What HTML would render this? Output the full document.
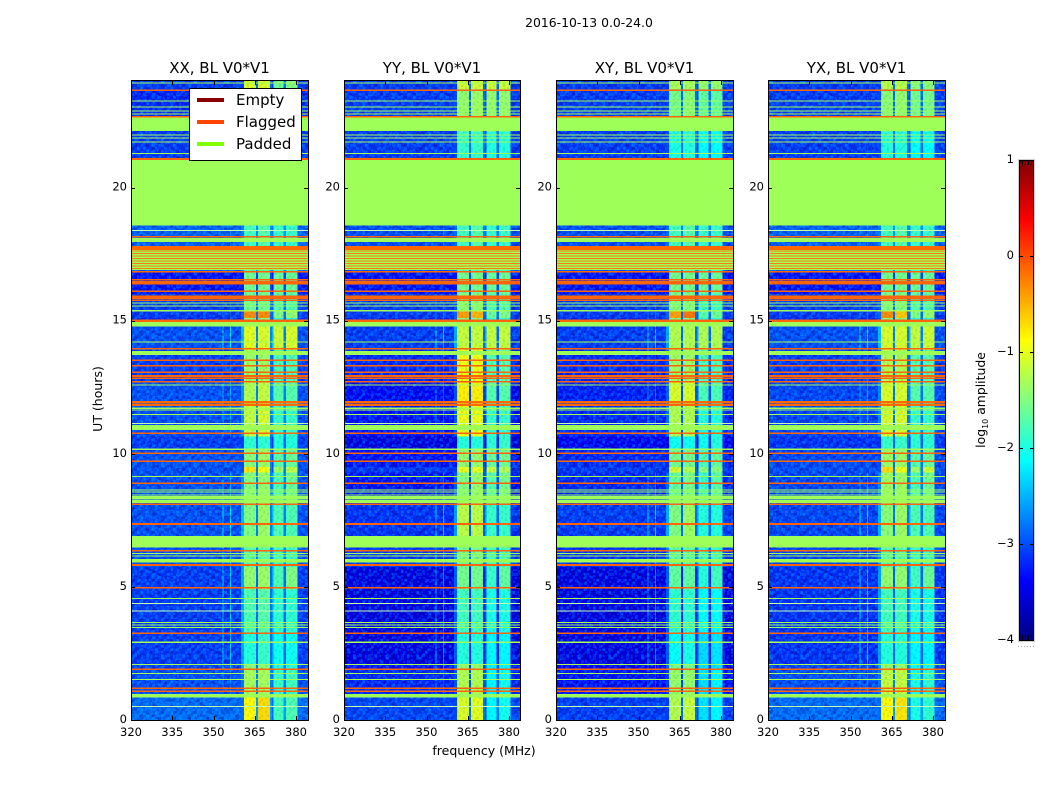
<!DOCTYPE html>
<html lang="en">
<head>
<meta charset="utf-8">
<title>2016-10-13 0.0-24.0</title>
<style>
html,body{margin:0;padding:0;background:#fff;}
svg{display:block;font-family:"DejaVu Sans","Liberation Sans",sans-serif;}
</style>
</head>
<body>
<svg id="chart" xmlns="http://www.w3.org/2000/svg" width="1050" height="800" viewBox="0 0 1050 800"></svg>
<script>
// ---- chart data (hours, MHz, log10 amplitude) ----
const panelTitles = ['XX, BL V0*V1', 'YY, BL V0*V1', 'XY, BL V0*V1', 'YX, BL V0*V1'];
const freqTicks = [320, 335, 350, 365, 380];
const hourTicks = [0, 5, 10, 15, 20];
const colorbarTicks = [1, 0, -1, -2, -3, -4];
const freqEdges = [320, 353.2, 353.6, 356, 356.4, 360, 361, 365.4, 366.1, 370.6, 371.3, 371.9, 375.4, 376.4, 380.5, 384.4];
// which row level each frequency column uses: 0 background, 1-4 bright bands, 5 RFI line, 6 band edge, 7 gap between bands
const columnRoles = [0, 5, 0, 5, 0, 6, 1, 7, 2, 7, 6, 3, 7, 4, 0];
const segmentEdges = [0, 0.85, 1.9, 2.1, 3.3, 4.9, 5.75, 6.47, 8.1, 9.3, 9.5, 10.17, 10.65, 11.9, 12.7, 13.9, 14.8, 15.1, 15.35, 16, 16.85, 18.6, 21.05, 22.1, 23.7, 24];
// RFI strength per time segment
const rfiBoost = [0, 0.3, 0.7, 0.8, 0.8, 0.8, 0.6, 0.8, 0.5, 0, 0, 0, 0.5, 0.5, 0.3, 0.8, 0.3, 0.3, 0.2, 0, 0.2, 0, 0.1, 0.1, 0];
const levelsXX = [
[-2.85,-0.85,-0.7,-1.8,-1.75],[-3.0,-1.3,-1.3,-1.85,-1.8],[-3.05,-1.45,-1.45,-1.95,-1.95],[-3.1,-1.95,-1.85,-2.05,-2.05],
[-3.1,-1.75,-1.7,-1.9,-1.9],[-3.1,-1.4,-1.35,-1.75,-1.5],[-3.0,-1.7,-1.7,-1.85,-1.85],[-3.0,-1.5,-1.35,-1.75,-1.75],
[-3.0,-1.5,-1.4,-1.75,-1.6],[-3.0,-0.75,-0.9,-1.35,-1.2],[-3.0,-1.45,-1.35,-1.7,-1.6],[-3.1,-1.9,-1.9,-1.95,-1.95],
[-3.0,-1.15,-1.05,-1.85,-1.85],[-3.0,-1.25,-1.15,-1.7,-1.7],[-3.1,-1.35,-1.35,-1.75,-1.75],[-3.0,-1.0,-1.05,-1.1,-1.05],
[-3.2,-1.5,-1.5,-1.95,-1.95],[-3.1,-0.3,-0.3,-1.5,-1.4],[-3.1,-1.6,-1.6,-1.75,-1.75],[-3.3,-1.55,-1.55,-1.6,-1.6],
[-2.9,-1.8,-1.7,-1.85,-1.85],[-1.2,-1.2,-1.2,-1.2,-1.2],[-3.1,-2.7,-2.6,-2.7,-2.7],[-3.2,-1.8,-1.7,-1.95,-1.95],[-3.1,-1.05,-1.05,-1.6,-1.5]];
const levelsYY = [
[-3.05,-1.05,-1.0,-2.15,-2.05],[-3.2,-1.25,-1.25,-2.15,-2.05],[-3.3,-1.4,-1.4,-2.15,-2.15],[-3.5,-1.95,-1.95,-2.15,-2.15],
[-3.5,-1.8,-1.8,-2.0,-2.0],[-3.5,-1.55,-1.55,-1.85,-1.65],[-3.1,-1.55,-1.55,-1.8,-1.8],[-3.15,-1.2,-1.2,-1.85,-1.85],
[-3.3,-1.5,-1.4,-1.7,-1.55],[-3.1,-1.0,-1.0,-1.15,-1.25],[-3.3,-1.4,-1.4,-1.6,-1.55],[-3.5,-1.95,-1.95,-1.9,-1.85],
[-3.3,-0.95,-0.95,-1.85,-1.85],[-3.35,-0.8,-0.8,-1.7,-1.7],[-3.2,-0.95,-0.95,-1.7,-1.7],[-3.1,-1.15,-1.15,-1.15,-1.15],
[-3.2,-1.5,-1.5,-1.95,-1.95],[-3.1,-0.4,-0.5,-1.6,-1.5],[-3.1,-1.45,-1.45,-1.75,-1.75],[-3.3,-1.55,-1.55,-1.6,-1.6],
[-3.0,-1.8,-1.7,-1.85,-1.85],[-1.2,-1.2,-1.2,-1.2,-1.2],[-3.1,-1.85,-1.85,-1.95,-1.95],[-3.1,-1.4,-1.35,-1.4,-1.4],[-3.1,-1.1,-1.1,-1.1,-1.1]];
const levelsXY = [
[-3.1,-1.25,-1.15,-2.25,-2.15],[-3.3,-1.4,-1.4,-2.25,-2.15],[-3.4,-1.55,-1.55,-2.25,-2.25],[-3.5,-2.1,-2.0,-2.3,-2.25],
[-3.5,-1.9,-1.9,-2.1,-2.1],[-3.5,-1.65,-1.65,-1.95,-1.8],[-3.15,-1.7,-1.7,-1.85,-1.85],[-3.1,-1.5,-1.35,-1.95,-1.95],
[-3.2,-1.65,-1.55,-1.85,-1.7],[-3.1,-1.1,-1.25,-1.45,-1.45],[-3.2,-1.55,-1.55,-1.75,-1.65],[-3.4,-2.05,-2.05,-2.05,-1.95],
[-3.2,-1.25,-1.25,-1.95,-1.95],[-3.25,-1.05,-1.05,-1.75,-1.75],[-3.2,-1.35,-1.35,-1.75,-1.75],[-3.1,-1.25,-1.25,-1.25,-1.25],
[-3.2,-1.5,-1.5,-1.95,-1.95],[-3.1,-0.4,-0.2,-1.7,-1.6],[-3.1,-1.5,-1.5,-1.85,-1.85],[-3.3,-1.55,-1.55,-1.6,-1.6],
[-3.0,-1.8,-1.7,-1.85,-1.85],[-1.2,-1.2,-1.2,-1.2,-1.2],[-3.1,-2.0,-1.95,-2.1,-2.1],[-3.1,-1.55,-1.45,-1.65,-1.65],[-3.1,-1.3,-1.3,-1.4,-1.4]];
const levelsYX = [
[-2.85,-0.85,-0.75,-2.0,-1.9],[-3.0,-1.15,-1.15,-2.0,-1.9],[-3.05,-1.4,-1.4,-2.05,-2.05],[-3.15,-1.95,-1.95,-2.15,-2.15],
[-3.15,-1.8,-1.8,-2.0,-2.0],[-3.15,-1.4,-1.4,-1.8,-1.6],[-3.05,-1.7,-1.7,-1.85,-1.85],[-3.05,-1.45,-1.35,-1.75,-1.75],
[-3.05,-1.35,-1.35,-1.75,-1.6],[-3.0,-0.7,-0.95,-1.35,-1.1],[-3.05,-1.35,-1.35,-1.7,-1.6],[-3.15,-1.85,-1.85,-1.9,-1.9],
[-3.05,-1.05,-1.05,-1.85,-1.85],[-3.05,-1.05,-1.05,-1.7,-1.7],[-3.1,-1.25,-1.25,-1.7,-1.7],[-3.0,-1.05,-1.05,-1.15,-1.1],
[-3.2,-1.5,-1.5,-1.95,-1.95],[-3.1,-0.3,-0.6,-1.5,-1.4],[-3.1,-1.5,-1.5,-1.75,-1.75],[-3.3,-1.55,-1.55,-1.6,-1.6],
[-2.9,-1.8,-1.7,-1.85,-1.85],[-1.2,-1.2,-1.2,-1.2,-1.2],[-3.1,-1.95,-1.95,-2.1,-2.1],[-3.1,-1.45,-1.4,-1.55,-1.55],[-3.1,-1.2,-1.2,-1.45,-1.45]];
const panelLevels = [levelsXX, levelsYY, levelsXY, levelsYX];
const paddedRanges = [[22.12,22.65],[18.57,21.03],[17.96,18.11],[16.9,17.65],[14.77,14.94],[13.71,13.86],[10.89,11.08],[8.29,8.42],[8.15,8.26],[6.47,6.91],[5.91,6.04],[0.85,0.98]];
const flaggedBands = [[17.65,17.8],[11.9,11.98],[11.8,11.88]];
const flaggedLines = [23.66,22.65,21.07,18.15,16.84,16.53,16.45,16.38,16.11,15.92,15.85,15.77,15.02,14.98,13.95,13.51,13.30,13.06,12.92,12.83,12.70,10.77,10.02,9.72,8.89,8.11,7.36,6.36,5.82,4.97,3.26,1.90,1.19,1.08];
const fineFlaggedLines = [17.62,17.52,17.43,17.34,17.24,17.15,17.05,16.96];
const paddedLines = [23.93,23.25,23.02,22.87,22.76,21.97,21.86,21.71,21.28,15.66,15.55,15.37,14.19,12.71,12.58,11.71,11.64,11.48,10.17,9.14,8.64,8.57,8.45,6.26,6.16,4.57,3.67,3.57,3.48,2.92,2.08,1.75,1.52];
const paleLines = [18.38,11.14,4.38,4.09,0.50];
const legendLabels = ['Empty', 'Flagged', 'Padded'];
const legendColors = ['#8b0000', '#ff4500', '#7fff00'];
// MHz ranges that show the grainy texture: background strong, bright bands faint
const textureRanges = [[320, 360], [381, 384.4]];
const bandTextureRange = [360, 381];
// fine receiver-noise texture tile: c = lighter cell, d = darker cell
const speckleTile = [
'c.d..c.dd.c..d.c',
'.d.c..c...d.c..d',
'd..c.d..c.d..cd.',
'.c.d.c.d..c.d...',
'c..dc..c.d..c.dc',
'.d...d.c.c.d..c.',
'd.c.c..d...c.d..',
'..d..c.c.dc..c.d',
'c.c.d...d..d.c..',
'.d..c.dc.c..c..d',
'd..c.c...d.c.d.c',
'.c.d..d.c..d...d',
'c...c.c.d.c.c.d.',
'.d.cd...c.d..c.c',
'd.c...d.c...dd..',
'.c.d.c.d..c.c..c'];

// ---- layout ----
const NS = 'http://www.w3.org/2000/svg';
const svg = document.getElementById('chart');
const panels = [{l:131,r:308},{l:344,r:520},{l:556,r:733},{l:768,r:945}];
const plotTop = 81, plotBottom = 720, hourMax = 24, freqMin = 320, pxPerMHz = 2.75;
const yHour = h => plotBottom - (h / hourMax) * (plotBottom - plotTop);
const xFreq = (p, f) => Math.min(p.r, p.l + (f - freqMin) * pxPerMHz);
const cbLeft = 1019, cbRight = 1034, cbTop = 160, cbBottom = 640, cbMin = -4, cbMax = 1;
const yColor = v => cbBottom - (v - cbMin) / (cbMax - cbMin) * (cbBottom - cbTop);

function clamp01(x){ return Math.max(0, Math.min(1, x)); }
function jet(v){
  const t = clamp01((v - cbMin) / (cbMax - cbMin));
  const r = Math.round(255 * clamp01(1.5 - Math.abs(4 * t - 3)));
  const g = Math.round(255 * clamp01(1.5 - Math.abs(4 * t - 2)));
  const b = Math.round(255 * clamp01(1.5 - Math.abs(4 * t - 1)));
  return 'rgb(' + r + ',' + g + ',' + b + ')';
}
function make(tag, attrs, parent){
  const el = document.createElementNS(NS, tag);
  for (const k in attrs) el.setAttribute(k, attrs[k]);
  (parent || svg).appendChild(el);
  return el;
}
function label(str, x, y, size, anchor, parent, name){
  const t = make('text', {x:x, y:y, 'font-size':size, 'text-anchor':anchor, fill:'#000'}, parent);
  t.textContent = str;
  
  
  return t;
}
function hBand(p, h0, h1, color, parent, name){
  const y0 = yHour(h1), y1 = yHour(h0);
  const r = make('rect', {x:p.l, y:y0, width:p.r - p.l, height:Math.max(1, y1 - y0), fill:color, 'shape-rendering':'crispEdges'}, parent);
  
  
  return r;
}
function levelFor(row, role, boost){
  if (role === 5) return row[0] + boost;
  if (role === 6) return row[0] + boost * 0.7;
  if (role === 7) return row[0] + 0.25;
  return row[role];
}

// shared texture patterns: two periods so the grain does not read as a regular grid
const rootDefs = make('defs', {});
function buildSpeckle(id, cell){
  const size = cell * speckleTile.length;
  const pat = make('pattern', {id:id, patternUnits:'userSpaceOnUse', x:131, y:81, width:size, height:size}, rootDefs);
  speckleTile.forEach(function(rowStr, ry){
    rowStr.split('').forEach(function(ch, rx){
      if (ch === '.') return;
      make('rect', {x:rx * cell, y:ry * cell, width:cell, height:cell, fill:ch === 'c' ? 'rgba(0,190,255,0.22)' : 'rgba(0,0,110,0.22)', 'shape-rendering':'crispEdges'}, pat);
    });
  });
}
buildSpeckle('speckleA', 2);
buildSpeckle('speckleB', 3);

label('2016-10-13 0.0-24.0', 589, 27, 12.4, 'middle', svg, 'figure-title');

panels.forEach(function(p, pi){
  const g = make('g', {});
  
  
  const heat = make('g', {}, g);
  
  
  const levels = panelLevels[pi];
  levels.forEach(function(row, si){
    const y0 = yHour(segmentEdges[si + 1]), y1 = yHour(segmentEdges[si]);
    columnRoles.forEach(function(role, ci){
      const x0 = xFreq(p, freqEdges[ci]), x1 = xFreq(p, freqEdges[ci + 1]);
      const c = make('rect', {x:x0, y:y0, width:x1 - x0, height:y1 - y0, fill:jet(levelFor(row, role, rfiBoost[si])), 'shape-rendering':'crispEdges'}, heat);
      
      
    });
  });
  textureRanges.forEach(function(range){
    ['speckleA', 'speckleB'].forEach(function(id){
      const tex = make('rect', {x:xFreq(p, range[0]), y:plotTop, width:xFreq(p, range[1]) - xFreq(p, range[0]), height:plotBottom - plotTop, fill:'url(#' + id + ')'}, g);
      
      
    });
  });
  const bandTex = make('rect', {x:xFreq(p, bandTextureRange[0]), y:plotTop, width:xFreq(p, bandTextureRange[1]) - xFreq(p, bandTextureRange[0]), height:plotBottom - plotTop, fill:'url(#speckleA)', opacity:0.45}, g);
  
  
  paddedRanges.forEach(function(r){ hBand(p, r[0], r[1], '#9eff58', g, 'padded-band'); });
  paddedLines.forEach(function(h){ hBand(p, h - 0.02, h + 0.02, '#a4ff58', g, 'padded-line'); });
  paleLines.forEach(function(h){ hBand(p, h - 0.02, h + 0.02, '#c4ffb0', g, 'gap-line'); });
  flaggedBands.forEach(function(r){ hBand(p, r[0], r[1], '#ff6a00', g, 'flagged-band'); });
  flaggedLines.forEach(function(h){ hBand(p, h - 0.03, h + 0.03, '#ff6408', g, 'flagged-line'); });
  fineFlaggedLines.forEach(function(h){ hBand(p, h - 0.015, h + 0.015, '#ff7a10', g, 'flagged-line'); });

  freqTicks.forEach(function(f){
    const x = Math.round(xFreq(p, f)) + 0.5;
    const t1 = make('line', {x1:x, x2:x, y1:plotBottom, y2:plotBottom - 4, stroke:'#000'}, g);
    
    
    const t2 = make('line', {x1:x, x2:x, y1:plotTop, y2:plotTop + 4, stroke:'#000'}, g);
    
    
    label(String(f), xFreq(p, f), 736, 11.5, 'middle', g, 'x-tick-label');
  });
  hourTicks.forEach(function(h){
    const y = Math.round(yHour(h)) + 0.5;
    const t1 = make('line', {x1:p.l, x2:p.l + 4, y1:y, y2:y, stroke:'#000'}, g);
    
    
    const t2 = make('line', {x1:p.r, x2:p.r - 4, y1:y, y2:y, stroke:'#000'}, g);
    
    
    label(String(h), p.l - 4, yHour(h) + 3, 11.5, 'end', g, 'y-tick-label');
  });
  const frame = make('rect', {x:p.l + 0.5, y:plotTop - 0.5, width:p.r - p.l, height:plotBottom - plotTop + 1, fill:'none', stroke:'#000'}, g);
  
  
  label(panelTitles[pi], (p.l + p.r) / 2, 73, 15, 'middle', g, 'panel-title');
});

// axis titles
const yTitle = label('UT (hours)', 0, 0, 12.5, 'middle', svg, 'y-axis-title');
yTitle.setAttribute('transform', 'translate(102,399) rotate(-90)');
label('frequency (MHz)', 484, 755, 12.5, 'middle', svg, 'x-axis-title');

// legend
const legend = make('g', {});


const legendBox = make('rect', {x:189.5, y:88.5, width:112, height:72, fill:'#fff', stroke:'#000'}, legend);


legendLabels.forEach(function(name, i){
  const ly = 100 + i * 22;
  const ln = make('line', {x1:197, x2:224, y1:ly, y2:ly, stroke:legendColors[i], 'stroke-width':4}, legend);
  
  
  label(name, 236, ly + 5, 15, 'start', legend, 'legend-entry');
});

// colorbar
const cb = make('g', {});


const defs = make('defs', {}, cb);
const grad = make('linearGradient', {id:'jetGrad', x1:0, y1:1, x2:0, y2:0}, defs);
for (let i = 0; i <= 40; i++) {
  const frac = i / 40;
  make('stop', {offset:frac, 'stop-color':jet(cbMin + frac * (cbMax - cbMin))}, grad);
}
const cbBar = make('rect', {x:cbLeft + 0.5, y:cbTop + 0.5, width:cbRight - cbLeft - 1, height:cbBottom - cbTop, fill:'url(#jetGrad)', stroke:'#000'}, cb);


const cbOutline = make('rect', {x:cbLeft - 0.5, y:cbTop - 0.5, width:cbRight - cbLeft + 1, height:cbBottom - cbTop + 2, fill:'none', stroke:'#bbb', 'stroke-width':0.7}, cb);


colorbarTicks.forEach(function(v){
  const y = Math.round(yColor(v)) + 0.5;
  const t1 = make('line', {x1:cbLeft, x2:cbLeft + 4, y1:y, y2:y, stroke:'#000'}, cb);
  
  
  const t2 = make('line', {x1:cbRight, x2:cbRight - 4, y1:y, y2:y, stroke:'#000'}, cb);
  
  
  label(String(v).replace('-', '\u2212'), cbLeft - 5, yColor(v) + 3, 11.5, 'end', cb, 'colorbar-tick-label');
});
[1022, 1025, 1028, 1031].forEach(function(x){
  const a = make('line', {x1:x + 0.5, x2:x + 0.5, y1:cbTop, y2:cbTop + 5, stroke:'#000'}, cb);
  
  
  const b = make('line', {x1:x + 0.5, x2:x + 0.5, y1:cbBottom, y2:cbBottom - 5, stroke:'#000'}, cb);
  
  
});
const cbDots = make('line', {x1:1018, x2:1035, y1:646.5, y2:646.5, stroke:'#aaa', 'stroke-dasharray':'1 2'}, cb);


const cbTitle = make('text', {'font-size':12.4, 'text-anchor':'middle', transform:'translate(985,400) rotate(-90)', fill:'#000'}, cb);


const cbA = make('tspan', {}, cbTitle); cbA.textContent = 'log';
const cbB = make('tspan', {'font-size':8, dy:3}, cbTitle); cbB.textContent = '10';
const cbC = make('tspan', {dy:-3}, cbTitle); cbC.textContent = ' amplitude';
</script>
</body>
</html>
